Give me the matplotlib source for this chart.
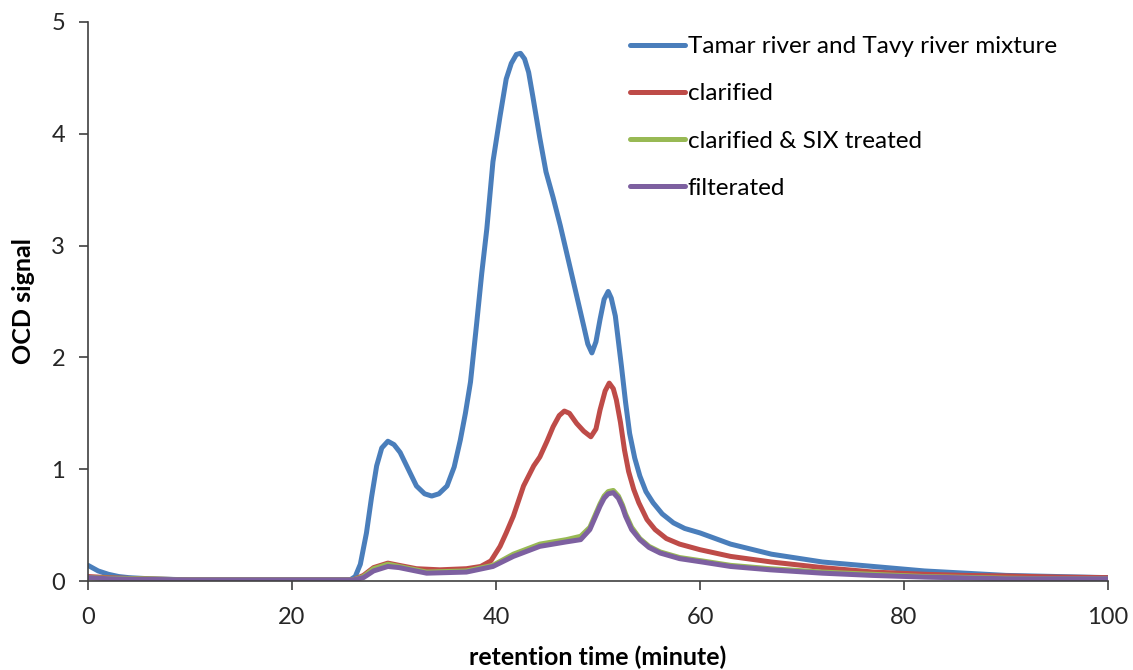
import matplotlib.pyplot as plt

plt.rcParams['font.family'] = ['Lato', 'DejaVu Sans']

# 读图得到的数据 (retention time in minute, OCD signal)
t_mix = [0, 1, 2, 3, 4, 6, 10, 15, 20, 24, 25.7, 26.2, 26.7, 27.3, 27.8, 28.3, 28.8, 29.4, 30.0, 30.6,
         31.4, 32.2, 33.0, 33.7, 34.4, 35.2, 35.9, 36.5, 37.0, 37.5, 38.1, 38.6, 39.1, 39.7, 40.4, 41.0,
         41.5, 42.0, 42.4, 42.8, 43.2, 43.6, 44.3, 44.9, 45.6, 46.3, 47.3, 48.6, 49.0, 49.4, 49.8, 50.2,
         50.6, 51.0, 51.3, 51.7, 52.3, 52.7, 53.1, 53.6, 54.1, 54.7, 55.4, 56.3, 57.4, 58.5, 60, 63, 67,
         72, 77, 82, 86, 90, 95, 100]
y_mix = [0.14, 0.09, 0.06, 0.04, 0.03, 0.02, 0.01, 0.01, 0.01, 0.01, 0.01, 0.04, 0.15, 0.43, 0.75, 1.03,
         1.19, 1.25, 1.22, 1.15, 1.00, 0.85, 0.78, 0.76, 0.78, 0.85, 1.02, 1.26, 1.50, 1.78, 2.30, 2.75,
         3.15, 3.75, 4.16, 4.49, 4.63, 4.71, 4.72, 4.67, 4.55, 4.34, 3.96, 3.66, 3.43, 3.18, 2.79, 2.28,
         2.12, 2.04, 2.14, 2.34, 2.52, 2.59, 2.53, 2.37, 1.92, 1.60, 1.32, 1.10, 0.94, 0.80, 0.70, 0.60,
         0.52, 0.47, 0.43, 0.33, 0.24, 0.17, 0.13, 0.09, 0.07, 0.05, 0.04, 0.03]

t_clar = [0, 2, 5, 10, 20, 26, 27, 28, 29.4, 30.5, 32.2, 34.5, 37.1, 38.5, 39.5, 40.4, 41.0, 41.7, 42.7,
          43.7, 44.3, 45.0, 45.6, 46.2, 46.7, 47.2, 47.9, 48.6, 49.3, 49.8, 50.2, 50.7, 51.1, 51.5, 51.8,
          52.2, 52.6, 53.0, 53.5, 54.0, 54.8, 55.6, 56.7, 58, 60, 63, 67, 72, 77, 82, 86, 90, 95, 100]
y_clar = [0.04, 0.03, 0.02, 0.01, 0.01, 0.01, 0.05, 0.12, 0.16, 0.14, 0.11, 0.10, 0.11, 0.13, 0.18, 0.31,
          0.43, 0.58, 0.85, 1.03, 1.11, 1.25, 1.38, 1.48, 1.52, 1.50, 1.41, 1.34, 1.29, 1.36, 1.53, 1.70,
          1.77, 1.72, 1.62, 1.42, 1.17, 0.98, 0.82, 0.70, 0.55, 0.46, 0.38, 0.33, 0.28, 0.22, 0.17, 0.12,
          0.08, 0.06, 0.05, 0.045, 0.035, 0.03]

t_six = [0, 2, 5, 10, 20, 26, 27, 28, 29.4, 30.5, 33.2, 37.1, 39.7, 41.7, 44.3, 46.9, 48.3, 49.2, 50.2,
         50.6, 51.0, 51.5, 52.0, 52.4, 52.7, 53.3, 54.1, 55.0, 56.1, 58, 60.2, 63, 66.9, 72, 76.9, 82, 90,
         95, 100]
y_six = [0.03, 0.025, 0.02, 0.01, 0.01, 0.01, 0.04, 0.11, 0.15, 0.13, 0.08, 0.09, 0.14, 0.24, 0.33, 0.37,
         0.40, 0.48, 0.69, 0.76, 0.80, 0.81, 0.76, 0.68, 0.60, 0.48, 0.38, 0.31, 0.26, 0.21, 0.18, 0.14,
         0.11, 0.08, 0.06, 0.04, 0.025, 0.02, 0.02]

t_filt = t_six
y_filt = [0.03, 0.02, 0.015, 0.01, 0.01, 0.01, 0.03, 0.09, 0.13, 0.12, 0.07, 0.08, 0.13, 0.22, 0.31, 0.35,
          0.37, 0.46, 0.67, 0.74, 0.78, 0.79, 0.74, 0.66, 0.58, 0.46, 0.37, 0.30, 0.25, 0.20, 0.17, 0.13,
          0.10, 0.07, 0.05, 0.035, 0.02, 0.02, 0.02]

labels = ['Tamar river and Tavy river mixture', 'clarified', 'clarified & SIX treated', 'filterated']
colors = ['#4A7EBB', '#BE4B48', '#98B954', '#7D60A0']

fig = plt.figure(figsize=(11.33, 6.70), dpi=100)
ax = fig.add_axes([88 / 1133, 1 - 581 / 670, 1020 / 1133, 559 / 670])

series = [(t_mix, y_mix), (t_clar, y_clar), (t_six, y_six), (t_filt, y_filt)]
for (t, y), lab, c in zip(series, labels, colors):
    ax.plot(t, y, color=c, lw=3.6, label=lab, solid_joinstyle='round', solid_capstyle='round')

ax.set_xlim(0, 100)
ax.set_ylim(0, 5)
ax.set_xticks(range(0, 101, 20))
ax.set_yticks(range(0, 6))
ax.spines['top'].set_visible(False)
ax.spines['right'].set_visible(False)
for s in ['left', 'bottom']:
    ax.spines[s].set_color('#404040')
    ax.spines[s].set_linewidth(1.2)
ax.tick_params(direction='out', length=6.5, width=1.2, color='#404040', labelcolor='#262626',
               labelsize=17, pad=10)
ax.tick_params(axis='x', pad=12)

ax.set_xlabel('retention time (minute)', fontsize=18, fontweight='bold', labelpad=13)
ax.set_ylabel('OCD signal', fontsize=18, fontweight='bold', labelpad=12)

ax.legend(loc='upper left', bbox_to_anchor=(630 / 1133, 1 - 36 / 670), bbox_transform=fig.transFigure,
          frameon=False, fontsize=17.5, handlelength=2.25, handletextpad=0.13, labelspacing=1.08,
          borderpad=0, borderaxespad=0)

plt.savefig('out.png', dpi=100)
